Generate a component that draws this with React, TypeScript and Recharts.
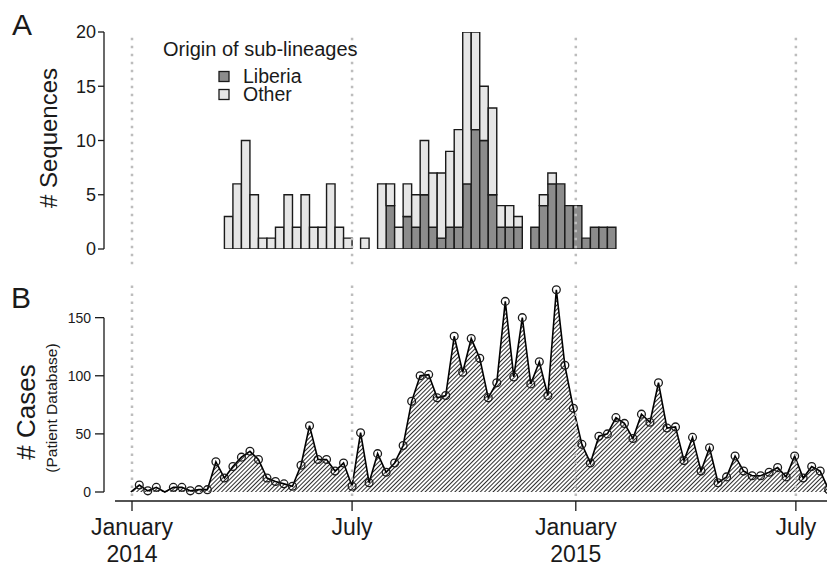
import React from 'react';
import { ComposedChart, Bar, Area, XAxis, YAxis, ReferenceLine } from 'recharts';

const FONT = '"Liberation Sans", Arial, Helvetica, sans-serif';
const INK = '#1a1a1a';
const LIBERIA_FILL = '#8c8c8c';
const OTHER_FILL = '#e6e6e6';
const DOT_GREY = '#bdbdbd';

// ---- Panel A: sequences per week (weeks counted from 2014-01-01) ----
const seqFirstWeek = 10; // first plotted week index
const seqLiberia = [
  0, 0, 0, 0, 0, 0, 0, 0, 0, 0, 0, 0, 0, 0, 0, 0, 0, 0, 0, 4, 0, 3, 2, 5, 2, 1, 2, 2, 6, 11, 10, 5, 2, 2, 2, 0,
  2, 4, 6, 6, 4, 4, 1, 2, 2, 2,
];
const seqOther = [
  3, 6, 10, 5, 1, 1, 2, 5, 2, 5, 2, 2, 6, 2, 1, 0, 1, 0, 6, 2, 2, 3, 3, 5, 5, 6, 7, 9, 14, 9, 5, 8, 2, 2, 1, 0,
  0, 1, 1, 0, 0, 0, 0, 0, 0, 0,
];

// ---- Panel B: cases per week ----
const caseFirstWeek = -1;
const cases = [
  0, 6, 1, 4, 0, 4, 4, 1, 2, 2, 26, 12, 22, 30, 35, 28, 12, 9, 7, 5, 23, 57, 28, 28, 18, 25, 5, 51, 8, 33, 17, 25,
  40, 78, 100, 101, 81, 83, 134, 103, 132, 115, 81, 94, 164, 99, 150, 93, 112, 83, 174, 109, 72, 41, 25, 48, 50,
  64, 59, 46, 67, 60, 94, 55, 56, 27, 47, 18, 38, 8, 13, 31, 18, 14, 14, 17, 21, 13, 31, 12, 22, 18, 2,
];

// ---- axis ticks (days since 2014-01-01) ----
const xTickDays = [0, 181, 365, 546];
const xTickMonth = ['January', 'July', 'January', 'July'];
const xTickYear = ['2014', '', '2015', ''];
const seqTicks = [0, 5, 10, 15, 20];
const caseTicks = [0, 50, 100, 150];

const seqData = seqLiberia.map((v, i) => ({
  day: (seqFirstWeek + i) * 7 + 9.5,
  liberia: v,
  other: seqOther[i],
}));
const caseData = cases.map((v, i) => ({ day: (caseFirstWeek + i) * 7 + 6, cases: v }));

const X_DOMAIN: [number, number] = [-23.03, 571.6];
const CASE_Y: [number, number] = [-7.745, 182.4];

const renderXTick = (props: any) => {
  const { x, y, index } = props;
  return (
    <text x={x} y={y} textAnchor="middle" fontSize={23} fill={INK} fontFamily={FONT}>
      <tspan x={x} dy={22}>{xTickMonth[index]}</tspan>
      {xTickYear[index] ? (
        <tspan x={x} dy={27}>{xTickYear[index]}</tspan>
      ) : null}
    </text>
  );
};

const renderDot = (props: any) => {
  const { cx, cy, index, value } = props;
  const v = Array.isArray(value) ? value[1] : value;
  if (v === 0 || cx == null || cy == null) return <g key={`d${index}`} />;
  return <circle key={`d${index}`} cx={cx} cy={cy} r={3.9} fill="none" stroke={INK} strokeWidth={1.3} />;
};

export default function App() {
  return (
    <div style={{ position: 'absolute', left: 0, top: 0, width: 827, height: 566, background: '#fff', fontFamily: FONT }}>
      <div style={{ position: 'absolute', left: 0, top: 0 }}>
        <ComposedChart width={827} height={300} data={seqData} margin={{ top: 32, right: 0, bottom: 51, left: 0 }}>
          <XAxis type="number" dataKey="day" domain={X_DOMAIN} allowDataOverflow hide height={0} />
          <YAxis
            type="number"
            domain={[0, 20]}
            ticks={seqTicks}
            interval={0}
            allowDataOverflow
            width={104}
            tickSize={6}
            tickMargin={2}
            axisLine={{ stroke: INK, strokeWidth: 1.3 }}
            tickLine={{ stroke: INK, strokeWidth: 1.3 }}
            tick={{ fontSize: 18, fill: INK, fontFamily: FONT }}
          />
          {xTickDays.map((d) => (
            <ReferenceLine
              key={`ta${d}`}
              segment={[{ x: d, y: -1.4 }, { x: d, y: 19.63 }]}
              stroke={DOT_GREY}
              strokeWidth={2.5}
              strokeDasharray="2.5 5.5"
              ifOverflow="visible"
            />
          ))}
          <Bar dataKey="liberia" stackId="s" fill={LIBERIA_FILL} stroke={INK} strokeWidth={1.4} barSize={8.5} isAnimationActive={false} />
          <Bar dataKey="other" stackId="s" fill={OTHER_FILL} stroke={INK} strokeWidth={1.4} barSize={8.5} isAnimationActive={false} />
        </ComposedChart>
      </div>
      <div style={{ position: 'absolute', left: 0, top: 0 }}>
        <ComposedChart width={827} height={566} data={caseData} margin={{ top: 280, right: 0, bottom: 0, left: 0 }}>
          <defs>
            <pattern id="hatch" patternUnits="userSpaceOnUse" width={3.0} height={3.0} patternTransform="rotate(45)">
              <line x1={0} y1={-1} x2={0} y2={5} stroke="#000" strokeWidth={1.65} />
            </pattern>
          </defs>
          <XAxis
            type="number"
            dataKey="day"
            domain={X_DOMAIN}
            allowDataOverflow
            ticks={xTickDays}
            interval={0}
            height={65}
            tickSize={10}
            tickMargin={2}
            axisLine={false}
            tickLine={{ stroke: INK, strokeWidth: 1.3 }}
            tick={renderXTick}
          />
          <YAxis
            type="number"
            domain={CASE_Y}
            allowDataOverflow
            ticks={caseTicks}
            interval={0}
            width={104}
            tickSize={9}
            tickMargin={4}
            axisLine={false}
            tickLine={{ stroke: INK, strokeWidth: 1.3 }}
            tick={{ fontSize: 14, fill: INK, fontFamily: FONT }}
          />
          {xTickDays.map((d) => (
            <ReferenceLine
              key={`tb${d}`}
              segment={[{ x: d, y: -3.4 }, { x: d, y: 179.9 }]}
              stroke={DOT_GREY}
              strokeWidth={2.5}
              strokeDasharray="2.5 5.5"
              ifOverflow="visible"
            />
          ))}
          <ReferenceLine
            segment={[{ x: X_DOMAIN[0], y: 0 }, { x: X_DOMAIN[0], y: 150 }]}
            stroke={INK}
            strokeWidth={1.3}
            ifOverflow="visible"
          />
          <ReferenceLine
            segment={[{ x: -14, y: CASE_Y[0] }, { x: X_DOMAIN[1], y: CASE_Y[0] }]}
            stroke={INK}
            strokeWidth={1.3}
            ifOverflow="visible"
          />
          <Area
            type="linear"
            dataKey="cases"
            baseValue={0}
            stroke="#000"
            strokeWidth={1.6}
            fill="url(#hatch)"
            fillOpacity={1}
            dot={renderDot}
            activeDot={false}
            isAnimationActive={false}
          />
        </ComposedChart>
      </div>
      <svg width={827} height={566} style={{ position: 'absolute', left: 0, top: 0, pointerEvents: 'none' }} fontFamily={FONT} fill={INK}>
        <text x={12} y={35} fontSize={30}>A</text>
        <text x={11} y={308} fontSize={30}>B</text>
        <text transform="translate(57,138) rotate(-90)" textAnchor="middle" fontSize={24}># Sequences</text>
        <text transform="translate(35,412) rotate(-90)" textAnchor="middle" fontSize={26}># Cases</text>
        <text transform="translate(57,408) rotate(-90)" textAnchor="middle" fontSize={15.5}>(Patient Database)</text>
        <text x={163} y={56} fontSize={20}>Origin of sub-lineages</text>
        <rect x={219} y={71.5} width={10} height={10} fill={LIBERIA_FILL} stroke={INK} strokeWidth={1.3} />
        <text x={243} y={83} fontSize={19.5}>Liberia</text>
        <rect x={219} y={89.5} width={10} height={10} fill={OTHER_FILL} stroke={INK} strokeWidth={1.3} />
        <text x={243} y={100.5} fontSize={19.5}>Other</text>
      </svg>
    </div>
  );
}
